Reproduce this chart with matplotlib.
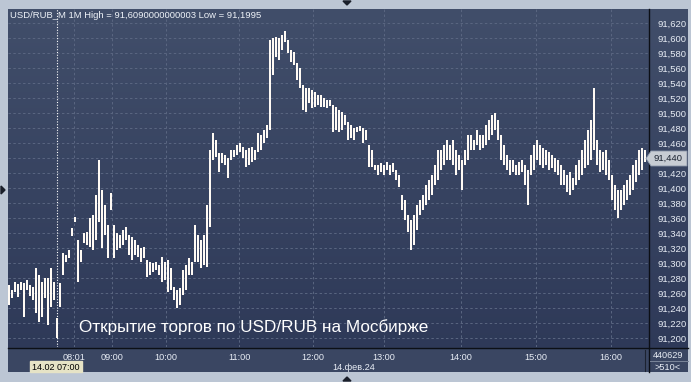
import numpy as np
import matplotlib
matplotlib.use("Agg")
import matplotlib.pyplot as plt
from matplotlib.patches import Rectangle, Polygon
from matplotlib.lines import Line2D
from matplotlib.colors import LinearSegmentedColormap
from matplotlib.ticker import FuncFormatter

plt.rcParams['font.family'] = ['Liberation Sans', 'DejaVu Sans']

# minute bars (high / low)
highs = [
    91.271, 91.264, 91.275, 91.272, 91.275, 91.274, 91.278, 91.271, 91.268, 91.294,
    91.284, 91.275, 91.280, 91.280, 91.294, 91.275, 91.227, 91.274, 91.314, 91.311,
    91.318, 91.347, 91.362, 91.331, 91.318, 91.340, 91.342, 91.360, 91.364, 91.391,
    91.438, 91.398, 91.378, 91.351, 91.394, 91.351, 91.340, 91.338, 91.344, 91.348,
    91.338, 91.335, 91.331, 91.324, 91.320, 91.322, 91.304, 91.302, 91.300, 91.302,
    91.298, 91.308, 91.302, 91.304, 91.294, 91.268, 91.264, 91.267, 91.291, 91.298,
    91.307, 91.302, 91.351, 91.338, 91.331, 91.338, 91.378, 91.451, 91.474, 91.464,
    91.447, 91.447, 91.444, 91.440, 91.451, 91.451, 91.458, 91.460, 91.455, 91.451,
    91.454, 91.455, 91.451, 91.474, 91.471, 91.478, 91.484, 91.598, 91.600, 91.602,
    91.600, 91.604, 91.609, 91.598, 91.584, 91.582, 91.567, 91.560, 91.538, 91.534,
    91.534, 91.531, 91.528, 91.524, 91.524, 91.520, 91.518, 91.518, 91.511, 91.508,
    91.504, 91.502, 91.498, 91.488, 91.484, 91.480, 91.482, 91.483, 91.480, 91.478,
    91.458, 91.451, 91.431, 91.431, 91.434, 91.431, 91.435, 91.431, 91.434, 91.424,
    91.418, 91.391, 91.384, 91.364, 91.358, 91.364, 91.378, 91.384, 91.391, 91.404,
    91.411, 91.418, 91.431, 91.451, 91.451, 91.458, 91.464, 91.458, 91.464, 91.451,
    91.444, 91.438, 91.451, 91.471, 91.471, 91.464, 91.478, 91.471, 91.471, 91.484,
    91.491, 91.498, 91.500, 91.491, 91.471, 91.458, 91.444, 91.438, 91.438, 91.431,
    91.435, 91.438, 91.431, 91.424, 91.444, 91.458, 91.464, 91.458, 91.454, 91.451,
    91.448, 91.444, 91.440, 91.438, 91.431, 91.424, 91.418, 91.422, 91.414, 91.431,
    91.438, 91.451, 91.464, 91.478, 91.491, 91.534, 91.464, 91.451, 91.448, 91.451,
    91.438, 91.418, 91.404, 91.398, 91.398, 91.404, 91.411, 91.418, 91.431, 91.438,
    91.451, 91.454, 91.451,
]
lows = [
    91.244, 91.254, 91.262, 91.255, 91.264, 91.228, 91.264, 91.256, 91.251, 91.234,
    91.222, 91.228, 91.254, 91.218, 91.242, 91.251, 91.1995, 91.242, 91.284, 91.302,
    91.307, 91.336, 91.355, 91.275, 91.302, 91.327, 91.324, 91.322, 91.318, 91.331,
    91.355, 91.320, 91.338, 91.307, 91.371, 91.307, 91.318, 91.320, 91.324, 91.331,
    91.311, 91.304, 91.311, 91.308, 91.302, 91.307, 91.282, 91.284, 91.288, 91.291,
    91.284, 91.275, 91.278, 91.262, 91.264, 91.251, 91.240, 91.244, 91.258, 91.264,
    91.284, 91.284, 91.302, 91.302, 91.294, 91.298, 91.295, 91.348, 91.438, 91.442,
    91.422, 91.434, 91.431, 91.414, 91.438, 91.442, 91.444, 91.448, 91.440, 91.428,
    91.431, 91.435, 91.438, 91.448, 91.451, 91.460, 91.467, 91.478, 91.551, 91.575,
    91.571, 91.584, 91.595, 91.580, 91.568, 91.564, 91.544, 91.534, 91.504, 91.502,
    91.514, 91.507, 91.508, 91.511, 91.508, 91.508, 91.507, 91.510, 91.475, 91.478,
    91.475, 91.478, 91.484, 91.464, 91.467, 91.464, 91.475, 91.476, 91.460, 91.464,
    91.428, 91.428, 91.424, 91.418, 91.422, 91.418, 91.424, 91.418, 91.422, 91.411,
    91.402, 91.371, 91.358, 91.342, 91.318, 91.324, 91.344, 91.364, 91.371, 91.378,
    91.384, 91.391, 91.404, 91.411, 91.424, 91.431, 91.438, 91.438, 91.431, 91.418,
    91.424, 91.398, 91.431, 91.438, 91.451, 91.451, 91.458, 91.451, 91.454, 91.458,
    91.464, 91.471, 91.478, 91.464, 91.438, 91.431, 91.424, 91.418, 91.422, 91.418,
    91.418, 91.422, 91.404, 91.378, 91.418, 91.424, 91.438, 91.431, 91.427, 91.431,
    91.424, 91.427, 91.422, 91.418, 91.404, 91.404, 91.395, 91.391, 91.398, 91.404,
    91.411, 91.418, 91.427, 91.431, 91.438, 91.451, 91.431, 91.422, 91.424, 91.418,
    91.411, 91.384, 91.371, 91.360, 91.371, 91.378, 91.384, 91.391, 91.398, 91.408,
    91.418, 91.424, 91.435,
]
last_price = 91.440

time_pos = [21.7, 34.3, 52.3, 76.7, 101.3, 125.0, 150.7, 175.7, 200.7]
time_labels = ['08:01', '09:00', '10:00', '11:00', '12:00', '13:00', '14:00', '15:00', '16:00']
cursor_pos = 16
price_levels = np.round(np.arange(91.20, 91.6201, 0.02), 2)

W, H = 691, 382


def rect(x0, y0, x1, y1):
    return [x0 / W, 1 - y1 / H, (x1 - x0) / W, (y1 - y0) / H]


def fpts(pts):
    return [(x / W, 1 - y / H) for x, y in pts]


fig = plt.figure(figsize=(W / 100, H / 100), dpi=100)
fig.patch.set_facecolor('#bcc6d4')

# dark panel with vertical gradient
bg = fig.add_axes(rect(8, 9, 688, 372))
bg.set_zorder(0)
cmap = LinearSegmentedColormap.from_list('bg', ['#414e6a', '#2d3857'])
bg.imshow(np.linspace(0, 1, 256).reshape(-1, 1), cmap=cmap, aspect='auto',
          extent=[0, 680, 0, 363])
bg.add_patch(Rectangle((0, 0), 680, 24, color='#3a4662'))
bg.set_xlim(0, 680)
bg.set_ylim(0, 363)
bg.axis('off')

ax = fig.add_axes(rect(8, 9, 648, 347))
ax.set_zorder(2)
ax.set_facecolor('none')
x = np.arange(len(highs))
ax.vlines(x, lows, highs, color='#fffaf4', lw=1.44, antialiased=False, zorder=3)
ax.set_xlim(-1 / 3, 213)
ax.set_ylim(91.188, 91.6387)


def price_fmt(v, p):
    if abs(v - last_price) < 1e-6:
        return ''  # hidden under the last price marker
    return f'{v:.3f}'.replace('.', ',')


ax.set_yticks(price_levels)
ax.yaxis.set_major_formatter(FuncFormatter(price_fmt))
ax.set_xticks(time_pos)
ax.set_xticklabels(time_labels)
ax.grid(color='#5a6681', ls=(0, (2.5, 2.5)), lw=0.7)
ax.tick_params(axis='y', left=False, right=False, labelleft=False, labelright=True,
               pad=3, labelsize=6.8, labelcolor='#e8edf5')
ax.tick_params(axis='x', length=0, pad=4, labelsize=6.6, labelcolor='#e8edf5')
for s in ax.spines.values():
    s.set_visible(False)

ax.axvline(cursor_pos, color='white', ls=(0, (1, 1.5)), lw=0.8, zorder=2)

fig.text(10 / W, 1 - 15 / H, 'USD/RUB_M 1M High = 91,6090000000003 Low = 91,1995',
         fontsize=6.8, color='#eef2f8', va='center', zorder=5)
fig.text(79 / W, 1 - 327 / H, 'Открытие торгов по USD/RUB на Мосбирже',
         fontsize=12.3, color='white', va='center', zorder=5)

# separators
fig.add_artist(Line2D([648.5 / W] * 2, [1 - 9 / H, 1 - 372 / H], color='#0c0f16', lw=1, zorder=4))
fig.add_artist(Line2D([8 / W, 688 / W], [1 - 347.5 / H] * 2, color='#0c0f16', lw=1, zorder=4))
fig.add_artist(Line2D([645 / W] * 2, [1 - 350 / H, 1 - 371 / H], color='#1c2230', lw=0.8, zorder=4))
fig.add_artist(Line2D([650 / W, 688 / W], [1 - 361 / H] * 2, color='#7a8599', lw=0.7, zorder=4))

# last price marker
fig.add_artist(Polygon(fpts([(646, 158.5), (651, 151), (687, 151), (687, 166), (651, 166)]),
                       closed=True, transform=fig.transFigure, facecolor='#c7ccd3',
                       edgecolor='#8995a8', lw=0.6, zorder=5))
fig.text(653 / W, 1 - 158.5 / H, f'{last_price:.3f}'.replace('.', ','), fontsize=6.8,
         color='#1a2230', va='center', zorder=6)

# bottom labels
fig.add_artist(Rectangle((30 / W, 1 - 372 / H), 52 / W, 11 / H, transform=fig.transFigure,
                         color='#e6e3c6', zorder=5))
fig.text(56 / W, 1 - 367 / H, '14.02 07:00', fontsize=6.5, color='black',
         ha='center', va='center', zorder=6)
fig.text(354 / W, 1 - 367 / H, '14.фев.24', fontsize=6.6, color='#e8edf5',
         ha='center', va='center', zorder=5)
fig.text(668 / W, 1 - 355 / H, '440629', fontsize=6.6, color='#e8edf5',
         ha='center', va='center', zorder=5)
fig.text(668 / W, 1 - 367 / H, '>510<', fontsize=6.6, color='#e8edf5',
         ha='center', va='center', zorder=5)

# small navigation triangles
for pts in ([(343, 1), (351, 1), (347, 5)],
            [(343, 381), (351, 381), (347, 377)],
            [(1, 186), (1, 194), (5, 190)]):
    fig.add_artist(Polygon(fpts(pts), closed=True, transform=fig.transFigure,
                           color='#1a1f2a', zorder=5))

fig.savefig('out.png', dpi=100)
